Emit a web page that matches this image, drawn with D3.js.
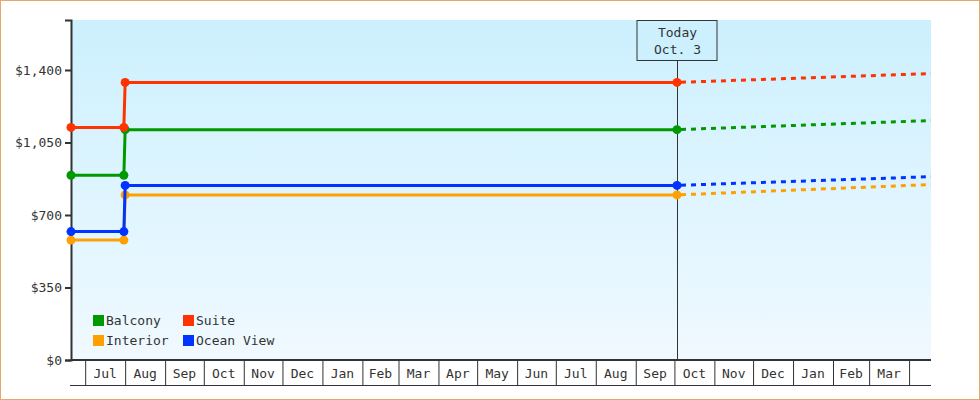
<!DOCTYPE html>
<html>
<head>
<meta charset="utf-8">
<script src="https://cdn.jsdelivr.net/npm/d3@7"></script>
<style>
  body { margin: 0; background: #fff; }
  svg { display: block; font-family: "DejaVu Sans Mono", monospace; }
  text { fill: #333; font-size: 13px; }
</style>
</head>
<body>
<svg id="chart" width="980" height="400"></svg>
<script>
// data
const historyDates = ['2013-06-20', '2013-07-31', '2013-08-01', '2014-10-03']
const forecastDates = ['2014-10-03', '2015-04-18']
const yTicks = [0, 350, 700, 1050, 1400]

const balcony = [892, 892, 1112, 1112]
const balconyForecast = [1112, 1156]
const suite = [1123, 1123, 1340, 1340]
const suiteForecast = [1340, 1383]
const interior = [579, 579, 797, 797]
const interiorForecast = [797, 847]
const oceanView = [620, 620, 843, 843]
const oceanViewForecast = [843, 885]

const todayDate = '2014-10-03'
const todayLabel = ['Today', 'Oct. 3']

const series = [
  { name: 'Interior', color: '#ffa000', values: interior, forecast: interiorForecast },
  { name: 'Ocean View', color: '#0033ff', values: oceanView, forecast: oceanViewForecast },
  { name: 'Balcony', color: '#009900', values: balcony, forecast: balconyForecast },
  { name: 'Suite', color: '#ff3300', values: suite, forecast: suiteForecast }
]
const legendOrder = ['Balcony', 'Suite', 'Interior', 'Ocean View']

const parse = d3.timeParse('%Y-%m-%d')

let plotLeft = 71, plotRight = 931, plotTop = 20, plotBottom = 360

let svg = d3.select('#chart')

// outer frame
svg.append('rect')
  .attr('x', 0.5).attr('y', 0.5)
  .attr('width', 979).attr('height', 399)
  .attr('fill', '#fff')
  .attr('stroke', '#e3a86a')

let defs = svg.append('defs')
let grad = defs.append('linearGradient')
  .attr('id', 'bg')
  .attr('x1', 0).attr('y1', 0).attr('x2', 0).attr('y2', 1)
grad.append('stop').attr('offset', '0%').attr('stop-color', '#ccf0fe')
grad.append('stop').attr('offset', '100%').attr('stop-color', '#f0f9ff')

svg.append('rect')
  .attr('x', plotLeft).attr('y', plotTop)
  .attr('width', plotRight - plotLeft).attr('height', plotBottom - plotTop)
  .attr('fill', 'url(#bg)')

let x = d3.scaleTime()
  .domain([parse(historyDates[0]), parse(forecastDates[1])])
  .range([plotLeft, plotRight])

let y = d3.scaleLinear()
  .domain([0, 1400 * (plotBottom - plotTop) / 290])
  .range([plotBottom, plotTop])

// month bands under the axis
let months = d3.timeMonth.range(x.domain()[0], x.domain()[1])
let xAxis = svg.append('g')
  .attr('transform', `translate(0,${plotBottom})`)
  .call(d3.axisBottom(x).tickValues(months).tickSize(25).tickFormat(''))
xAxis.select('.domain').remove()
xAxis.selectAll('.tick line').attr('stroke', '#333')

svg.append('line')
  .attr('x1', plotLeft - 1).attr('x2', plotRight)
  .attr('y1', plotBottom + 25.5).attr('y2', plotBottom + 25.5)
  .attr('stroke', '#333')

svg.append('g')
  .selectAll('text')
  .data(months.filter(m => x(d3.timeMonth.offset(m, 1)) <= plotRight))
  .enter().append('text')
  .attr('x', m => (x(m) + x(d3.timeMonth.offset(m, 1))) / 2)
  .attr('y', plotBottom + 18)
  .attr('text-anchor', 'middle')
  .text(d3.timeFormat('%b'))

// y axis
let yAxis = svg.append('g')
  .attr('transform', `translate(${plotLeft},0)`)
  .call(d3.axisLeft(y).tickValues(yTicks).tickSize(6).tickPadding(3)
    .tickFormat(v => '$' + d3.format(',')(v)))
yAxis.select('.domain').attr('stroke', '#333').attr('stroke-width', 2)
yAxis.selectAll('.tick line').attr('stroke', '#333').attr('stroke-width', 2)
yAxis.selectAll('.tick text')
  .attr('fill', '#333')
  .style('font-size', '13px')
  .style('font-family', '"DejaVu Sans Mono", monospace')

svg.append('line')
  .attr('x1', plotLeft).attr('x2', plotRight)
  .attr('y1', plotBottom).attr('y2', plotBottom)
  .attr('stroke', '#333').attr('stroke-width', 2)

// today marker
let tx = Math.round(x(parse(todayDate))) + 0.5
svg.append('line')
  .attr('x1', tx).attr('x2', tx)
  .attr('y1', 60).attr('y2', plotBottom)
  .attr('stroke', '#333')
svg.append('rect')
  .attr('x', tx - 40.5).attr('y', 20.5)
  .attr('width', 80).attr('height', 40)
  .attr('fill', '#cdf0fe')
  .attr('stroke', '#333')
svg.append('text')
  .attr('x', tx).attr('y', 37)
  .attr('text-anchor', 'middle')
  .text(todayLabel[0])
svg.append('text')
  .attr('x', tx).attr('y', 54)
  .attr('text-anchor', 'middle')
  .text(todayLabel[1])

let line = d3.line()
  .x(d => x(d.date))
  .y(d => y(d.value))

series.forEach(s => {
  let pts = historyDates.map((d, i) => ({ date: parse(d), value: s.values[i] }))
  let fpts = forecastDates.map((d, i) => ({ date: parse(d), value: s.forecast[i] }))

  svg.append('path')
    .datum(fpts)
    .attr('d', line)
    .attr('fill', 'none')
    .attr('stroke', s.color)
    .attr('stroke-width', 3)
    .attr('stroke-dasharray', '5,5')
    .attr('stroke-dashoffset', -4)

  svg.append('path')
    .datum(pts)
    .attr('d', line)
    .attr('fill', 'none')
    .attr('stroke', s.color)
    .attr('stroke-width', 3)

  svg.append('g')
    .selectAll('circle')
    .data(pts)
    .enter().append('circle')
    .attr('cx', d => x(d.date))
    .attr('cy', d => y(d.value))
    .attr('r', 4.5)
    .attr('fill', s.color)
})

// legend
let legend = svg.append('g')
  .selectAll('g')
  .data(legendOrder.map(n => series.find(s => s.name === n)))
  .enter().append('g')
  .attr('transform', (d, i) => `translate(${93 + (i % 2) * 90},${315 + Math.floor(i / 2) * 20})`)
legend.append('rect')
  .attr('width', 11).attr('height', 11)
  .attr('fill', d => d.color)
legend.append('text')
  .attr('x', 13).attr('y', 10)
  .text(d => d.name)
</script>
</body>
</html>
